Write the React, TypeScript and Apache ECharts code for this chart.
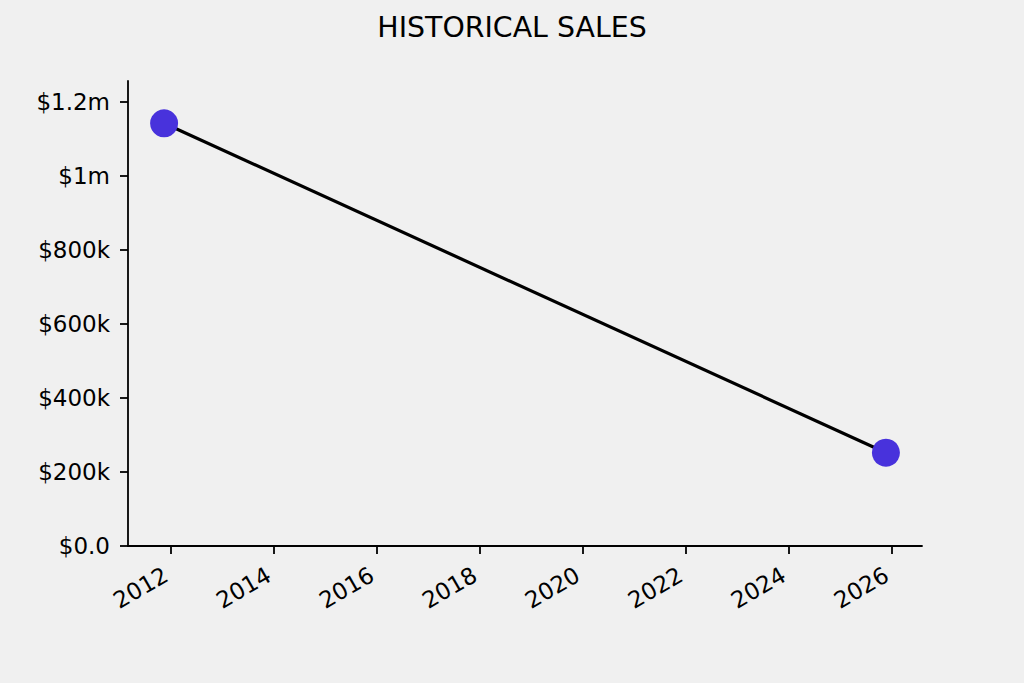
import React, { useEffect, useRef } from "react";
import * as echarts from "echarts";

const dates = ["2011-11-12", "2025-11-20"];
const sales = [1142000, 252000];
const yearTicks = [2012, 2014, 2016, 2018, 2020, 2022, 2024, 2026];
const yTicks = [0, 200000, 400000, 600000, 800000, 1000000, 1200000];

function toDecimalYear(s: string): number {
  const d = new Date(s + "T00:00:00Z");
  const y = d.getUTCFullYear();
  const start = Date.UTC(y, 0, 1);
  const end = Date.UTC(y + 1, 0, 1);
  return y + (d.getTime() - start) / (end - start);
}

function fmtMoney(v: number): string {
  if (v === 0) return "$0.0";
  if (v >= 1000000) return "$" + parseFloat((v / 1000000).toFixed(2)) + "m";
  return "$" + Math.round(v / 1000) + "k";
}

export default function App() {
  const ref = useRef<HTMLDivElement>(null);
  useEffect(() => {
    if (!ref.current) return;
    const chart = echarts.init(ref.current, undefined, { renderer: "svg" });
    const xs = dates.map(toDecimalYear);
    const xMin0 = Math.min(...xs);
    const xMax0 = Math.max(...xs);
    const pad = (xMax0 - xMin0) * 0.05;
    const yMax = Math.max(...sales) * 1.1;
    const font = "DejaVu Sans";
    chart.setOption({
      animation: false,
      backgroundColor: "#f0f0f0",
      title: {
        text: "HISTORICAL SALES",
        left: "center",
        top: 8,
        textStyle: {
          fontFamily: font,
          fontSize: 28.4,
          fontWeight: "normal",
          color: "#000",
        },
      },
      grid: { left: 128, right: 102, top: 81, bottom: 137, containLabel: false },
      xAxis: {
        type: "value",
        min: xMin0 - pad,
        max: xMax0 + pad,
        splitLine: { show: false },
        axisLine: { show: true, onZero: false, lineStyle: { color: "#000", width: 1.8 } },
        axisTick: {
          show: true,
          customValues: yearTicks,
          length: 8,
          lineStyle: { color: "#000", width: 1.8 },
        },
        axisLabel: {
          customValues: yearTicks,
          rotate: 30,
          margin: 24,
          padding: [0, 6, 0, 0],
          fontFamily: font,
          fontSize: 23,
          color: "#000",
          formatter: (v: number) => String(Math.round(v)),
        },
      },
      yAxis: {
        type: "value",
        min: 0,
        max: yMax,
        splitLine: { show: false },
        axisLine: { show: true, lineStyle: { color: "#000", width: 1.8 } },
        axisTick: {
          show: true,
          customValues: yTicks,
          length: 8,
          lineStyle: { color: "#000", width: 1.8 },
        },
        axisLabel: {
          customValues: yTicks,
          margin: 18,
          fontFamily: font,
          fontSize: 23,
          color: "#000",
          formatter: (v: number) => fmtMoney(v),
        },
      },
      series: [
        {
          type: "line",
          data: xs.map((x, i) => [x, sales[i]]),
          lineStyle: { color: "#000", width: 3.2 },
          symbol: "circle",
          symbolSize: 28,
          itemStyle: { color: "#4832DC" },
          z: 2,
        },
      ],
    });
    return () => chart.dispose();
  }, []);
  return (
    <div
      ref={ref}
      style={{ position: "fixed", left: 0, top: 0, width: 1024, height: 683 }}
    />
  );
}
